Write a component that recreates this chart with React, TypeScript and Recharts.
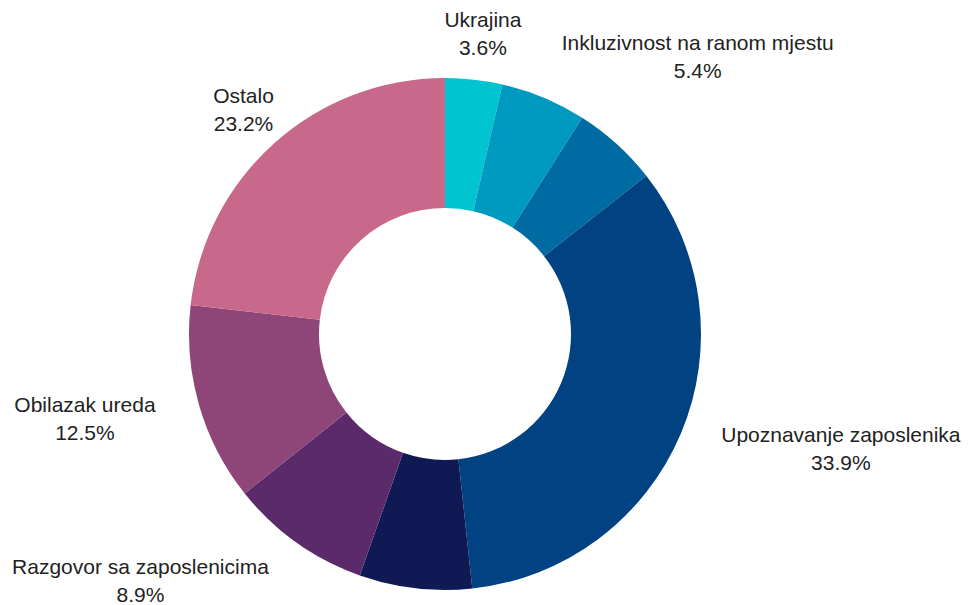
import { Cell, Pie, PieChart } from 'recharts';

const categories = [
  'Ukrajina',
  'Inkluzivnost na ranom mjestu',
  'Prilagodba',
  'Upoznavanje zaposlenika',
  'Mentorstvo',
  'Razgovor sa zaposlenicima',
  'Obilazak ureda',
  'Ostalo',
];
const shares = [3.6, 5.4, 5.4, 33.9, 7.1, 8.9, 12.5, 23.2];
const showLabel = [true, true, false, true, false, true, true, true];
const colors = ['#00c4cf', '#009ac0', '#006ba3', '#004282', '#0f1a55', '#5a2a6b', '#8e4679', '#c8688a'];

const data = categories.map((name, i) => ({ name, value: shares[i] }));

// label block centre, offset from the slice's outer mid point
const labelOffset: Record<string, [number, number]> = {
  Ukrajina: [9, -46],
  'Inkluzivnost na ranom mjestu': [154, -41],
  'Upoznavanje zaposlenika': [160, 16],
  'Razgovor sa zaposlenicima': [-156, 38],
  'Obilazak ureda': [-114, 14],
  Ostalo: [-31, -33],
};

const RAD = Math.PI / 180;

function renderLabel(props: any) {
  const { cx, cy, midAngle, outerRadius, index, name, value } = props;
  if (!showLabel[index]) return null;
  const [dx, dy] = labelOffset[name] ?? [0, 0];
  const x = cx + outerRadius * Math.cos(-midAngle * RAD) + dx;
  const y = cy + outerRadius * Math.sin(-midAngle * RAD) + dy;
  return (
    <text
      x={x}
      y={y}
      textAnchor="middle"
      fill="#222"
      fontSize={21}
      fontFamily="'Liberation Sans', Arial, sans-serif"
    >
      <tspan x={x} dy={-7}>{name}</tspan>
      <tspan x={x} dy={28}>{value.toFixed(1)}%</tspan>
    </text>
  );
}

export default function App() {
  return (
    <div style={{ position: 'fixed', top: 0, left: 0, background: '#fff' }}>
      <PieChart width={969} height={605} margin={{ top: 0, right: 0, bottom: 0, left: 0 }}>
        <Pie
          data={data}
          dataKey="value"
          nameKey="name"
          cx={445}
          cy={334}
          innerRadius={126}
          outerRadius={256}
          startAngle={90}
          endAngle={-270}
          stroke="none"
          label={renderLabel}
          labelLine={false}
          isAnimationActive={false}
        >
          {data.map((d, i) => (
            <Cell key={d.name} fill={colors[i]} />
          ))}
        </Pie>
      </PieChart>
    </div>
  );
}
